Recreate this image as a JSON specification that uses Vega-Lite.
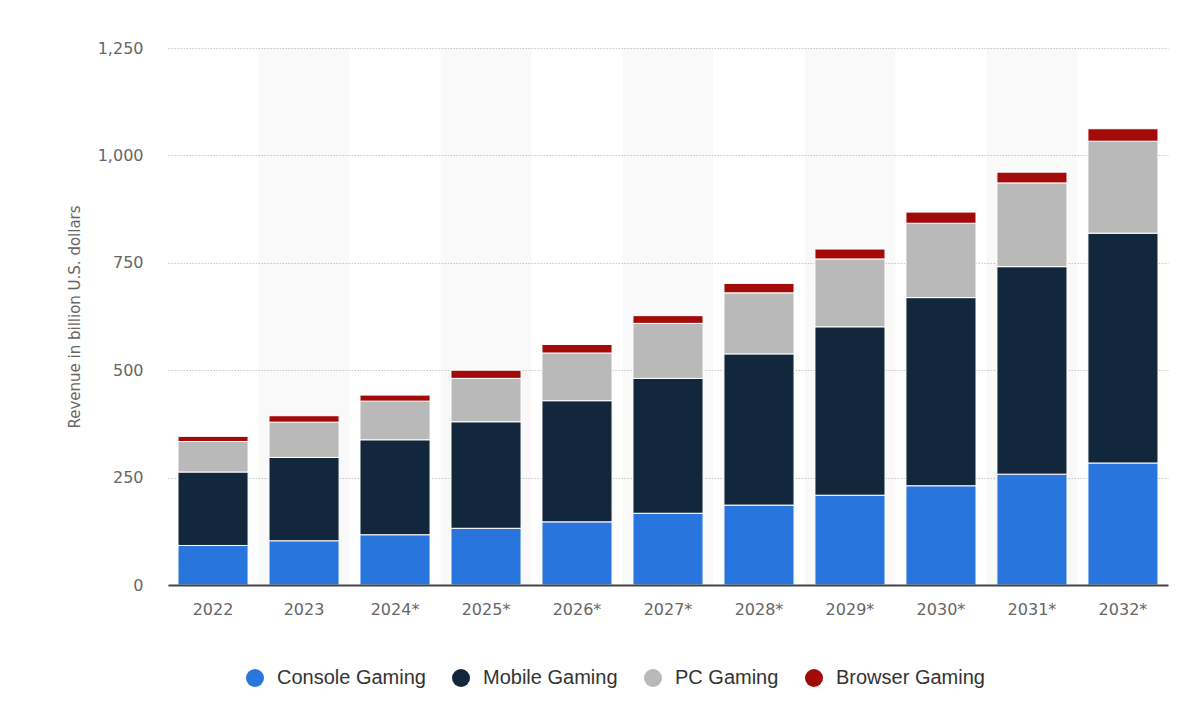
{
  "$schema": "https://vega.github.io/schema/vega-lite/v6.json",
  "autosize": {"type": "none"},
  "width": 1000,
  "height": 537,
  "padding": {"left": 168, "top": 48, "right": 11, "bottom": 121},
  "background": "#ffffff",
  "config": {
    "view": {"stroke": null},
    "font": "DejaVu Sans"
  },
  "datasets": {
    "shade": [
      {"year": "2023"}, {"year": "2025*"}, {"year": "2027*"}, {"year": "2029*"}, {"year": "2031*"}
    ],
    "rev": [
      {"year": "2022", "segment": "Console Gaming", "idx": 1, "revenue": 92},
      {"year": "2022", "segment": "Mobile Gaming", "idx": 2, "revenue": 171},
      {"year": "2022", "segment": "PC Gaming", "idx": 3, "revenue": 71},
      {"year": "2022", "segment": "Browser Gaming", "idx": 4, "revenue": 12},
      {"year": "2023", "segment": "Console Gaming", "idx": 1, "revenue": 103},
      {"year": "2023", "segment": "Mobile Gaming", "idx": 2, "revenue": 194},
      {"year": "2023", "segment": "PC Gaming", "idx": 3, "revenue": 82},
      {"year": "2023", "segment": "Browser Gaming", "idx": 4, "revenue": 15},
      {"year": "2024*", "segment": "Console Gaming", "idx": 1, "revenue": 117},
      {"year": "2024*", "segment": "Mobile Gaming", "idx": 2, "revenue": 221},
      {"year": "2024*", "segment": "PC Gaming", "idx": 3, "revenue": 90},
      {"year": "2024*", "segment": "Browser Gaming", "idx": 4, "revenue": 14},
      {"year": "2025*", "segment": "Console Gaming", "idx": 1, "revenue": 132},
      {"year": "2025*", "segment": "Mobile Gaming", "idx": 2, "revenue": 248},
      {"year": "2025*", "segment": "PC Gaming", "idx": 3, "revenue": 101},
      {"year": "2025*", "segment": "Browser Gaming", "idx": 4, "revenue": 19},
      {"year": "2026*", "segment": "Console Gaming", "idx": 1, "revenue": 147},
      {"year": "2026*", "segment": "Mobile Gaming", "idx": 2, "revenue": 282},
      {"year": "2026*", "segment": "PC Gaming", "idx": 3, "revenue": 111},
      {"year": "2026*", "segment": "Browser Gaming", "idx": 4, "revenue": 20},
      {"year": "2027*", "segment": "Console Gaming", "idx": 1, "revenue": 167},
      {"year": "2027*", "segment": "Mobile Gaming", "idx": 2, "revenue": 314},
      {"year": "2027*", "segment": "PC Gaming", "idx": 3, "revenue": 128},
      {"year": "2027*", "segment": "Browser Gaming", "idx": 4, "revenue": 18},
      {"year": "2028*", "segment": "Console Gaming", "idx": 1, "revenue": 186},
      {"year": "2028*", "segment": "Mobile Gaming", "idx": 2, "revenue": 352},
      {"year": "2028*", "segment": "PC Gaming", "idx": 3, "revenue": 142},
      {"year": "2028*", "segment": "Browser Gaming", "idx": 4, "revenue": 22},
      {"year": "2029*", "segment": "Console Gaming", "idx": 1, "revenue": 209},
      {"year": "2029*", "segment": "Mobile Gaming", "idx": 2, "revenue": 392},
      {"year": "2029*", "segment": "PC Gaming", "idx": 3, "revenue": 158},
      {"year": "2029*", "segment": "Browser Gaming", "idx": 4, "revenue": 23},
      {"year": "2030*", "segment": "Console Gaming", "idx": 1, "revenue": 231},
      {"year": "2030*", "segment": "Mobile Gaming", "idx": 2, "revenue": 438},
      {"year": "2030*", "segment": "PC Gaming", "idx": 3, "revenue": 173},
      {"year": "2030*", "segment": "Browser Gaming", "idx": 4, "revenue": 26},
      {"year": "2031*", "segment": "Console Gaming", "idx": 1, "revenue": 258},
      {"year": "2031*", "segment": "Mobile Gaming", "idx": 2, "revenue": 483},
      {"year": "2031*", "segment": "PC Gaming", "idx": 3, "revenue": 195},
      {"year": "2031*", "segment": "Browser Gaming", "idx": 4, "revenue": 25},
      {"year": "2032*", "segment": "Console Gaming", "idx": 1, "revenue": 284},
      {"year": "2032*", "segment": "Mobile Gaming", "idx": 2, "revenue": 535},
      {"year": "2032*", "segment": "PC Gaming", "idx": 3, "revenue": 214},
      {"year": "2032*", "segment": "Browser Gaming", "idx": 4, "revenue": 29}
    ]
  },
  "layer": [
    {
      "data": {"name": "shade"},
      "mark": {"type": "bar", "color": "#000000", "opacity": 0.025, "width": {"band": 1.3}},
      "encoding": {
        "x": {"field": "year", "type": "nominal"},
        "y": {"datum": 1250, "type": "quantitative"}
      }
    },
    {
      "data": {"name": "rev"},
      "mark": {"type": "bar", "stroke": "#ffffff", "strokeWidth": 1},
      "encoding": {
        "x": {
          "field": "year",
          "type": "nominal",
          "sort": ["2022", "2023", "2024*", "2025*", "2026*", "2027*", "2028*", "2029*", "2030*", "2031*", "2032*"],
          "scale": {"paddingInner": 0.23, "paddingOuter": 0.11},
          "axis": {
            "title": null,
            "labelAngle": 0,
            "labelAlign": "center",
            "bandPosition": 0.5,
            "labelFont": "DejaVu Sans",
            "labelFontSize": 16,
            "labelColor": "#666666",
            "labelPadding": 24,
            "ticks": false,
            "domain": true,
            "domainColor": "#444444",
            "domainWidth": 2,
            "grid": false,
            "zindex": 1
          }
        },
        "y": {
          "field": "revenue",
          "type": "quantitative",
          "stack": "zero",
          "scale": {"domain": [0, 1250], "nice": false},
          "axis": {
            "title": "Revenue in billion U.S. dollars",
            "titleFont": "DejaVu Sans",
            "titleFontSize": 15,
            "titleFontWeight": "normal",
            "titleColor": "#666666",
            "titlePadding": 15,
            "values": [0, 250, 500, 750, 1000, 1250],
            "format": ",d",
            "labelFont": "DejaVu Sans",
            "labelFontSize": 16,
            "labelColor": "#666666",
            "labelPadding": 25,
            "ticks": false,
            "domain": false,
            "grid": true,
            "gridColor": "#c8c8c8",
            "gridDash": [1.5, 1.5],
            "gridWidth": 1
          }
        },
        "color": {
          "field": "segment",
          "type": "nominal",
          "scale": {
            "domain": ["Console Gaming", "Mobile Gaming", "PC Gaming", "Browser Gaming"],
            "range": ["#2876dd", "#12263c", "#b9b9b9", "#a30b0b"]
          },
          "legend": {
            "title": null,
            "orient": "none",
            "direction": "horizontal",
            "legendX": 77,
            "legendY": 620,
            "symbolType": "circle",
            "symbolSize": 324,
            "symbolStrokeWidth": 0,
            "labelFont": "Liberation Sans",
            "labelFontSize": 20,
            "labelColor": "#333333",
            "labelOffset": 12,
            "columnPadding": 25,
            "labelLimit": 300
          }
        },
        "order": {"field": "idx", "type": "quantitative", "sort": "ascending"}
      }
    }
  ]
}
